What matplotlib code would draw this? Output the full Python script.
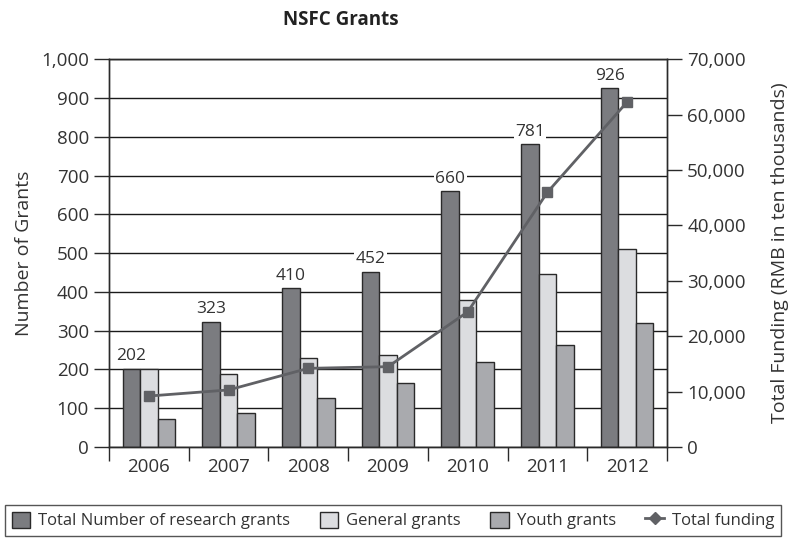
import numpy as np
import matplotlib.pyplot as plt
from matplotlib.lines import Line2D
from matplotlib.patches import Patch

# Data
years = ["2006", "2007", "2008", "2009", "2010", "2011", "2012"]
total_grants = [202, 323, 410, 452, 660, 781, 926]
general_grants = [201, 189, 230, 238, 380, 446, 511]
youth_grants = [73, 87, 127, 166, 218, 262, 321]
total_funding = [9200, 10300, 14200, 14500, 24400, 46000, 62300]

plt.rcParams["font.family"] = ["Open Sans", "DejaVu Sans"]

c_total = "#7b7c80"
c_general = "#dcdde0"
c_youth = "#a9aaae"
c_line = "#606165"
c_edge = "#2a2a2a"
c_text = "#333333"

fig = plt.figure(figsize=(7.97, 5.39), dpi=100)
ax = fig.add_axes([0.1368, 0.1707, 0.7001, 0.7193])

x = np.arange(len(years))
w = 0.22
ax.bar(x - w, total_grants, w, color=c_total, edgecolor=c_edge, linewidth=1, zorder=2)
ax.bar(x, general_grants, w, color=c_general, edgecolor=c_edge, linewidth=1, zorder=2)
ax.bar(x + w, youth_grants, w, color=c_youth, edgecolor=c_edge, linewidth=1, zorder=2)

# value labels above the total bars
for xi, v in zip(x, total_grants):
    ax.text(xi - w, v + 11, str(v), ha="center", va="bottom", fontsize=12.5, color=c_text,
            bbox=dict(facecolor="white", edgecolor="none", pad=1), zorder=3)

ax.set_xlim(-0.5, len(years) - 0.5)
ax.set_ylim(0, 1000)
ax.set_yticks(np.arange(0, 1001, 100))
ax.set_yticklabels([f"{v:,}" for v in range(0, 1001, 100)])
ax.set_xticks(x)
ax.set_xticklabels(years)
ax.set_xticks(np.arange(-0.5, len(years), 1), minor=True)
ax.tick_params(axis="x", which="major", length=0, labelsize=13.5, pad=8, colors=c_text)
ax.tick_params(axis="x", which="minor", length=10, width=1, color=c_edge)
ax.tick_params(axis="y", length=11, width=1, labelsize=13.5, colors=c_text, color=c_edge)
ax.grid(axis="y", color="#1a1a1a", linewidth=1)
ax.set_axisbelow(True)
ax.set_ylabel("Number of Grants", fontsize=14, color=c_text, labelpad=6)
for s in ax.spines.values():
    s.set_color(c_edge)
    s.set_linewidth(1)

ax2 = ax.twinx()
ax2.plot(x, total_funding, color=c_line, linewidth=2, marker="s", markersize=7, zorder=4)
ax2.set_ylim(0, 70000)
ax2.set_yticks(np.arange(0, 70001, 10000))
ax2.set_yticklabels(["0"] + [f"{v:,}" for v in range(10000, 70001, 10000)])
ax2.tick_params(axis="y", length=11, width=1, labelsize=13.5, colors=c_text, color=c_edge)
ax2.set_ylabel("Total Funding (RMB in ten thousands)", fontsize=14, color=c_text, labelpad=18)
for s in ax2.spines.values():
    s.set_color(c_edge)
    s.set_linewidth(1)

fig.text(0.428, 0.962, "NSFC Grants", ha="center", va="center", fontsize=13.5,
         fontweight="bold", color="#222222")

handles = [
    Patch(facecolor=c_total, edgecolor=c_edge, label="Total Number of research grants"),
    Patch(facecolor=c_general, edgecolor=c_edge, label="General grants"),
    Patch(facecolor=c_youth, edgecolor=c_edge, label="Youth grants"),
    Line2D([0], [0], color=c_line, linewidth=2, marker="D", markersize=6, label="Total funding"),
]
leg = fig.legend(handles=handles, loc="lower left", bbox_to_anchor=(0.0063, 0.0056, 0.974, 0.056),
                 mode="expand", ncol=4, frameon=True, fancybox=False, edgecolor=c_edge,
                 fontsize=12, handlelength=1.1, handleheight=1.1, handletextpad=0.5,
                 columnspacing=1.0, borderpad=0.4, borderaxespad=0)
leg.get_frame().set_linewidth(1)
for t in leg.get_texts():
    t.set_color(c_text)

plt.savefig("out.png", dpi=100)
plt.close()
